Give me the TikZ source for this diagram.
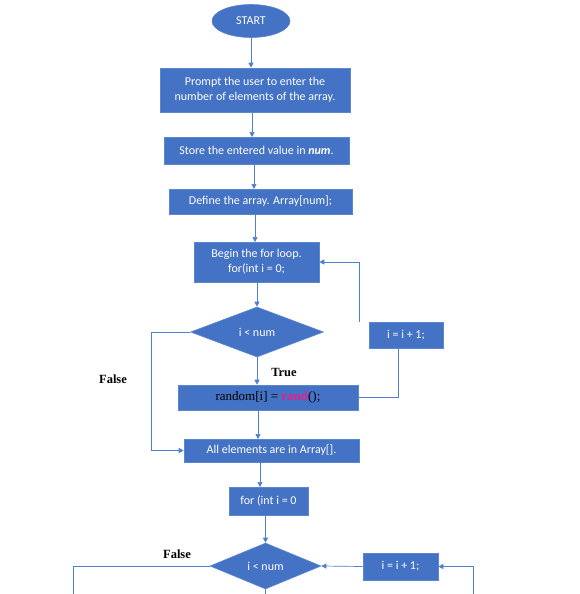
\documentclass[tikz,border=0pt]{standalone}
\usepackage{fontspec}
\setmainfont{Carlito}
\newfontfamily\timesfont{Liberation Serif}
\usetikzlibrary{shapes.geometric,arrows.meta}
\definecolor{boxblue}{HTML}{4472C4}
\definecolor{edgeblue}{HTML}{5B87D0}
\definecolor{lineblue}{HTML}{4F7FD0}
\definecolor{randpink}{HTML}{E3208E}
\begin{document}
\begin{tikzpicture}[x=1pt,y=-1pt,
  every node/.style={font=\fontsize{12}{15}\selectfont, text=white},
  procbox/.style={rectangle, fill=boxblue, draw=edgeblue, line width=0.6pt, inner sep=2pt, align=center},
  decbox/.style={diamond, fill=boxblue, draw=edgeblue, line width=0.6pt, inner sep=0pt},
  conn/.style={draw=lineblue, line width=0.7pt},
  arr/.style={conn, -{Triangle[length=5pt,width=5pt]}},
  lbl/.style={text=black, font=\timesfont\bfseries\fontsize{12.5}{14}\selectfont}
]
\useasboundingbox (0,0) rectangle (580,594);
\node[ellipse, fill=boxblue, draw=edgeblue, line width=0.6pt, minimum width=78pt, minimum height=33pt, inner sep=0pt] (start) at (251,21) {START};
\node[procbox, minimum width=190pt, minimum height=44pt] (b1) at (255,90) {Prompt the user to enter the\\number of elements of the array.};
\node[procbox, minimum width=185pt, minimum height=27pt] (b2) at (256.5,150.5) {Store the entered value in \textbf{\textit{num}}.};
\node[procbox, minimum width=183pt, minimum height=25pt] (b3) at (260.5,201.5) {Define the array. Array[num];};
\node[procbox, minimum width=125pt, minimum height=40pt] (b4) at (256.5,262) {Begin the for loop.\\for(int i = 0;};
\node[decbox, minimum width=133pt, minimum height=50pt] (d1) at (257,332) {i {\textless} num};
\node[procbox, minimum width=74pt, minimum height=26pt] (inc1) at (406,335) {i = i + 1;};
\node[procbox, minimum width=180pt, minimum height=25pt, text=black, font=\timesfont\fontsize{13}{15}\selectfont] (rnd) at (268,397.5) {random[i] = \textcolor{randpink}{\textbf{rand}}();};
\node[procbox, minimum width=175pt, minimum height=23pt] (b5) at (271.5,450.5) {All elements are in Array[].};
\node[procbox, minimum width=79pt, minimum height=28pt] (b6) at (268.5,501) {for (int i = 0};
\node[decbox, minimum width=111pt, minimum height=46pt] (d2) at (265.5,566) {i {\textless} num};
\node[procbox, minimum width=75pt, minimum height=27pt] (inc2) at (400.5,566.5) {i = i + 1;};
\node[lbl] (tTrue) at (284,372) {True};
\node[lbl] (tFalse1) at (113,379) {False};
\node[lbl] (tFalse2) at (177,554) {False};
\coordinate (c1) at (151,332);
\coordinate (bl) at (73,594);
\coordinate (br) at (473,594);
\coordinate (bd) at (265.5,594);
\draw[arr] (start.south) -- (start.south |- b1.north);
\draw[arr] (252,112) -- (252,137);
\draw[arr] (254,164) -- (254,189);
\draw[arr] (255,214) -- (255,242);
\draw[arr] (257,282) -- (d1.north -| 257,0);
\draw[arr] (d1.south) -- (d1.south |- rnd.north);
\draw[arr] ([xshift=-9pt]inc1.north west) |- (b4.east);
\draw[conn] (rnd.east) -| ([xshift=-8pt]inc1.south);
\draw[arr] (d1.west) -- (c1) |- (b5.west);
\draw[arr] (258,410) -- (258,439);
\draw[arr] (260,462) -- (260,487);
\draw[arr] (d2.north |- b6.south) -- (d2.north);
\draw[conn] (d2.west) -- (bl |- d2.west) -- (bl);
\draw[conn] (d2.south) -- (bd);
\draw[arr] (inc2.west) -- (d2.east);
\draw[arr] (br) |- (inc2.east);
\end{tikzpicture}
\end{document}
